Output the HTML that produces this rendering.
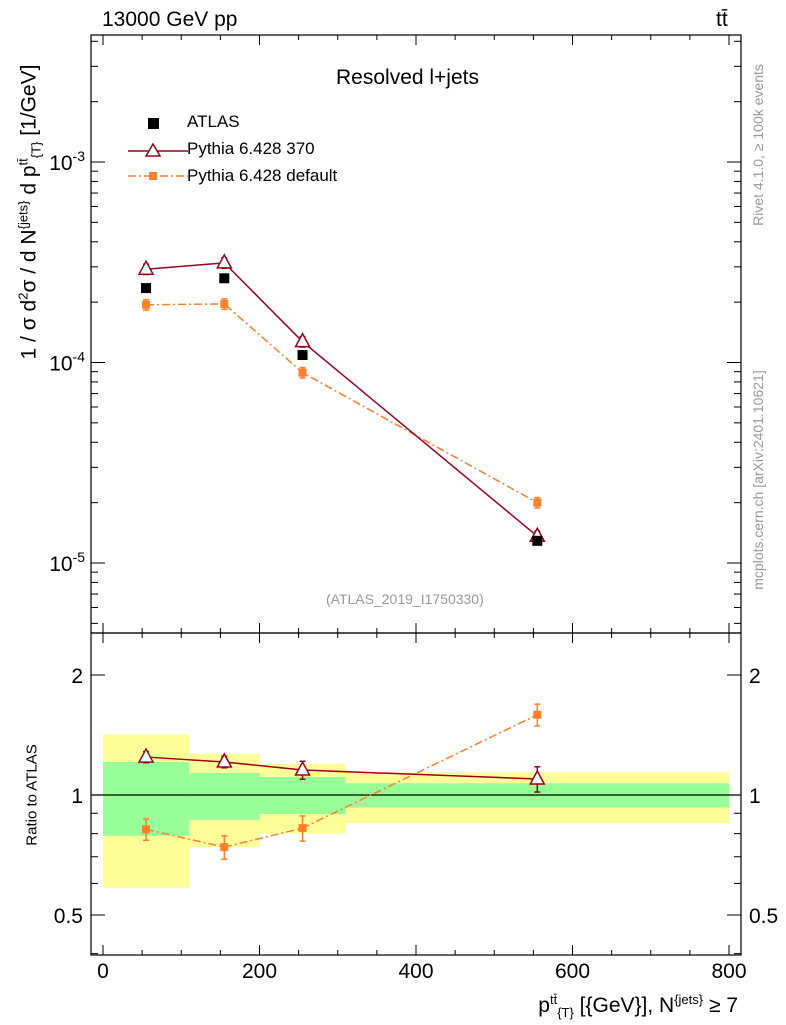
<!DOCTYPE html>
<html><head><meta charset="utf-8"><style>
body{margin:0;background:#fff;}
svg{display:block;font-family:"Liberation Sans",sans-serif;}
.n{white-space:nowrap;}
</style></head><body>
<svg id="c" width="786" height="1024" viewBox="0 0 786 1024"></svg>
<script>
const xCenters=[55,155,255,555];
const binEdges=[0,110,200,310,800];
const atlas=[2.35e-4,2.63e-4,1.09e-4,1.29e-5];
const py370=[2.92e-4,3.14e-4,1.27e-4,1.36e-5];
const pyDef=[1.94e-4,1.96e-4,8.9e-5,2.0e-5];
const r370=[1.245,1.21,1.155,1.097];
const rDef=[0.82,0.74,0.826,1.59];
const r370Err=[0.04,0.04,0.06,0.08];
const rDefErr=[0.05,0.05,0.06,0.1];
const yellowHi=[1.42,1.27,1.196,1.14];
const yellowLo=[0.585,0.74,0.80,0.85];
const greenHi=[1.21,1.136,1.11,1.07];
const greenLo=[0.79,0.866,0.896,0.93];
const xTicks=[0,200,400,600,800];

const NS="http://www.w3.org/2000/svg";
const svg=document.getElementById('c');
function el(t,a,p){const e=document.createElementNS(NS,t);for(const k in a)e.setAttribute(k,a[k]);(p||svg).appendChild(e);return e;}
const X=v=>103+v*626/800;
const Y=v=>162-(Math.log10(v)+3)*200.5;
const R=v=>795-Math.log2(v)*120;
const L=91,Rt=741,T=35,M=633,B=955;

for(let i=0;i<4;i++){
 const y=el('rect',{x:X(binEdges[i]),y:R(yellowHi[i]),width:X(binEdges[i+1])-X(binEdges[i]),height:R(yellowLo[i])-R(yellowHi[i]),fill:'#ffff99'});
 
 const g=el('rect',{x:X(binEdges[i]),y:R(greenHi[i]),width:X(binEdges[i+1])-X(binEdges[i]),height:R(greenLo[i])-R(greenHi[i]),fill:'#99ff99'});
 
}
el('line',{x1:L,x2:Rt,y1:R(1),y2:R(1),stroke:'#000','stroke-width':1.2});
el('rect',{x:L,y:T,width:Rt-L,height:M-T,fill:'none',stroke:'#000','stroke-width':1.2});
el('rect',{x:L,y:M,width:Rt-L,height:B-M,fill:'none',stroke:'#000','stroke-width':1.2});
xTicks.forEach(v=>{
 [[T,1],[M,-1],[M,1],[B,-1]].forEach(([y0,d])=>el('line',{x1:X(v),x2:X(v),y1:y0,y2:y0+d*10,stroke:'#000'}));
 const t=el('text',{x:X(v),y:978,'text-anchor':'middle','font-size':21});t.textContent=v;
 
});
for(let v=-50;v<=850;v+=50){if(v%200===0||X(v)<L||X(v)>Rt)continue;
 [[T,1],[M,-1],[M,1],[B,-1]].forEach(([y0,d])=>el('line',{x1:X(v),x2:X(v),y1:y0,y2:y0+d*5,stroke:'#000'}));}
for(let e=-6;e<=-2;e++)for(let m=1;m<10;m++){const v=m*Math.pow(10,e);const y=Y(v);if(y<T||y>M)continue;
 const len=m===1?14:7;el('line',{x1:L,x2:L+len,y1:y,y2:y,stroke:'#000'});el('line',{x1:Rt,x2:Rt-len,y1:y,y2:y,stroke:'#000'});
 if(m===1){const t=el('text',{x:L-6,y:y+8,'text-anchor':'end','font-size':21});t.innerHTML='10<tspan dy="-9" font-size="14">'+e+'</tspan>';
 }}
[0.4,0.5,0.6,0.7,0.8,0.9,1,2].forEach(v=>{const y=R(v);if(y<M||y>B)return;const big=[0.5,1,2].includes(v);const len=big?14:7;
 el('line',{x1:L,x2:L+len,y1:y,y2:y,stroke:'#000'});el('line',{x1:Rt,x2:Rt-len,y1:y,y2:y,stroke:'#000'});
 if(big){const lab=v===0.5?'0.5':String(v);
 const t=el('text',{x:L-8,y:y+8,'text-anchor':'end','font-size':21});t.textContent=lab;
 const t2=el('text',{x:Rt+8,y:y+8,'font-size':21});t2.textContent=lab;}});
function series(vals,yf,color,dash,marker,name,errs){
 const pts=vals.map((v,i)=>X(xCenters[i])+','+yf(v)).join(' ');
 const pl=el('polyline',{points:pts,fill:'none',stroke:color,'stroke-width':1.5,'stroke-dasharray':dash||''});
 
 vals.forEach((v,i)=>{const x=X(xCenters[i]),y=yf(v);
  const e=errs?errs[i]:0.06;const up=errs?R(v+e):yf(v*(1+e)),dn=errs?R(v-e):yf(v*(1-e));
  el('line',{x1:x,x2:x,y1:up,y2:dn,stroke:color,'stroke-width':1.5});
  el('line',{x1:x-3,x2:x+3,y1:up,y2:up,stroke:color,'stroke-width':1.5});el('line',{x1:x-3,x2:x+3,y1:dn,y2:dn,stroke:color,'stroke-width':1.5});
  let m;
  if(marker==='tri')m=el('polygon',{points:`${x},${y-8} ${x-7},${y+5} ${x+7},${y+5}`,fill:'#fff',stroke:color,'stroke-width':1.5});
  else m=el('rect',{x:x-4,y:y-4,width:8,height:8,fill:color});
  });
}
series(pyDef,Y,'#ff7f2a','8,3,2,3','sq','pythia-default-main');
series(py370,Y,'#99001f','','tri','pythia-370-main');
atlas.forEach((v,i)=>{const r=el('rect',{x:X(xCenters[i])-5,y:Y(v)-5,width:10,height:10,fill:'#000'});
 });
series(rDef,R,'#ff7f2a','8,3,2,3','sq','pythia-default-ratio',rDefErr);
series(r370,R,'#99001f','','tri','pythia-370-ratio',r370Err);
</script>
<div style="position:absolute;left:0;top:0;width:786px;height:1024px;pointer-events:none;font-family:'Liberation Sans',sans-serif;">
 <div class="n" style="position:absolute;left:102px;top:8px;font-size:21px;">13000 GeV pp</div>
 <div class="n" style="position:absolute;left:716px;top:8px;font-size:21px;">tt̄</div>
 <div class="n" style="position:absolute;left:336px;top:66px;font-size:21px;">Resolved l+jets</div>
 <div style="position:absolute;left:0;top:0;">
  <div style="position:absolute;left:148px;top:118px;width:11px;height:11px;background:#000"></div>
  <div class="n" style="position:absolute;left:187px;top:112px;font-size:17px;">ATLAS</div>
  <svg style="position:absolute;left:128px;top:140px" width="60" height="20"><line x1="0" y1="11" x2="60" y2="11" stroke="#99001f" stroke-width="1.5"/><polygon points="25,4 18,16 32,16" fill="#fff" stroke="#99001f" stroke-width="1.5"/></svg>
  <div class="n" style="position:absolute;left:187px;top:139px;font-size:17px;">Pythia 6.428 370</div>
  <svg style="position:absolute;left:128px;top:166px" width="60" height="20"><line x1="0" y1="10" x2="60" y2="10" stroke="#ff7f2a" stroke-width="1.5" stroke-dasharray="8,3,2,3"/><rect x="21" y="6" width="8" height="8" fill="#ff7f2a"/></svg>
  <div class="n" style="position:absolute;left:187px;top:166px;font-size:17px;">Pythia 6.428 default</div>
 </div>
 <div class="n" style="position:absolute;left:326px;top:591px;font-size:14px;color:#999;">(ATLAS_2019_I1750330)</div>
 <div class="n" style="position:absolute;left:30px;top:212px;font-size:21px;line-height:24px;transform:translate(-50%,-50%) rotate(-90deg);">1 / σ d<sup style="font-size:13px">2</sup>σ / d N<sup style="font-size:13px">{jets}</sup> d p<sup style="font-size:13px">tt̄</sup><sub style="font-size:13px">{T}</sub> [1/GeV]</div>
 <div class="n" style="position:absolute;left:32px;top:795px;font-size:15px;transform:translate(-50%,-50%) rotate(-90deg);">Ratio to ATLAS</div>
 <div class="n" style="position:absolute;right:48px;top:988px;font-size:21px;line-height:24px;">p<sup style="font-size:13px">tt̄</sup><sub style="font-size:13px">{T}</sub> [{GeV}], N<sup style="font-size:13px">{jets}</sup> ≥ 7</div>
 <div class="n" style="position:absolute;left:758px;top:145px;font-size:14px;color:#999;transform:translate(-50%,-50%) rotate(-90deg);">Rivet 4.1.0, ≥ 100k events</div>
 <div class="n" style="position:absolute;left:758px;top:480px;font-size:14px;color:#999;transform:translate(-50%,-50%) rotate(-90deg);">mcplots.cern.ch [arXiv:2401.10621]</div>
</div>
</body></html>
